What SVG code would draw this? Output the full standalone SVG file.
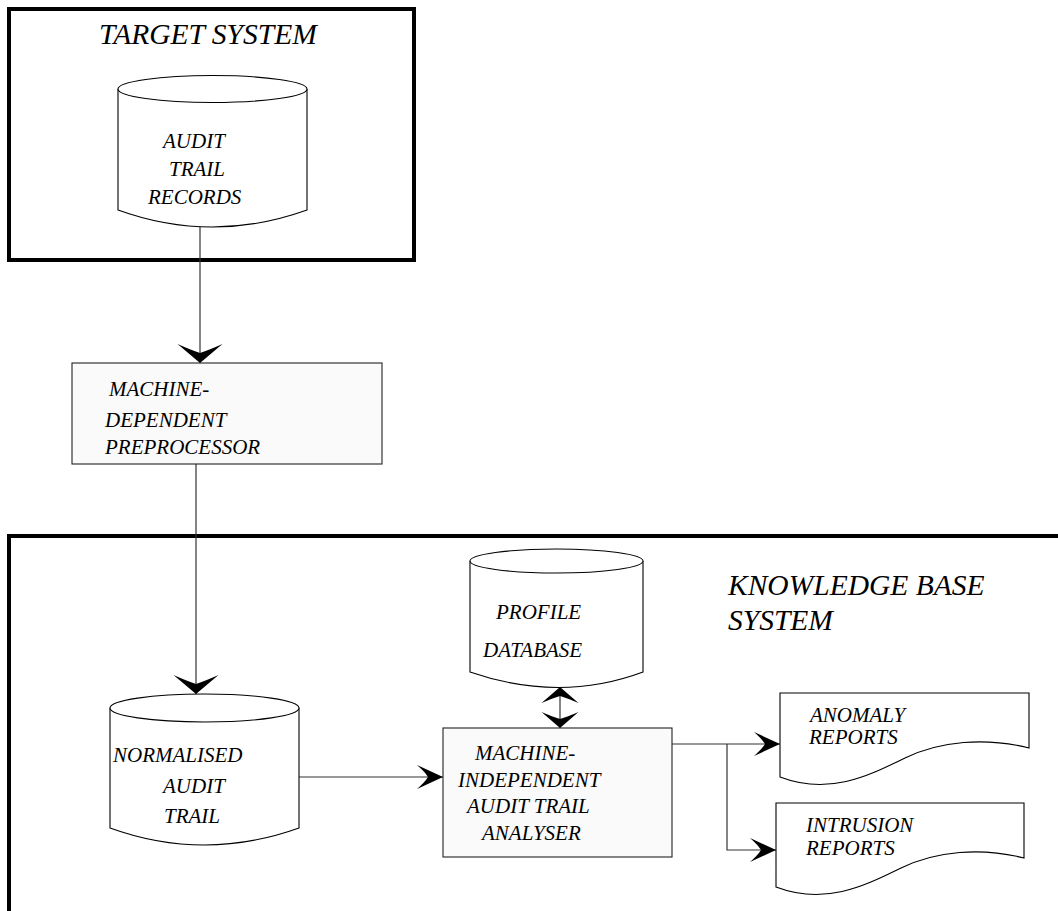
<svg xmlns="http://www.w3.org/2000/svg" width="1058" height="911" viewBox="0 0 1058 911">
<style>
.frame{fill:none;stroke:#000;stroke-width:4}
.shape{fill:#fff;stroke:#000;stroke-width:1.1}
.box{fill:#fafafa;stroke:#222;stroke-width:1.1}
.conn{fill:none;stroke:#333;stroke-width:1.2}
.t{font-family:"Liberation Serif","Times New Roman",serif;font-style:italic;font-size:21px;fill:#000}
.big{font-size:29.5px}
</style>
<defs>
<marker id="arrV" markerUnits="userSpaceOnUse" orient="auto" overflow="visible" markerWidth="1" markerHeight="1">
<path d="M0,0 L-19,-22.5 Q-13,-9 -10,0 Q-13,9 -19,22.5 Z" fill="#000"/>
</marker>
<marker id="arrH" markerUnits="userSpaceOnUse" orient="auto" overflow="visible" markerWidth="1" markerHeight="1">
<path d="M0,0 L-26,-12 Q-18,-5 -15,0 Q-18,5 -26,12 Z" fill="#000"/>
</marker>
<marker id="arrB" markerUnits="userSpaceOnUse" orient="auto-start-reverse" overflow="visible" markerWidth="1" markerHeight="1">
<path d="M0,0 L-16,-18.5 Q-11,-7 -9,0 Q-11,7 -16,18.5 Z" fill="#000"/>
</marker>
</defs>

<g id="target-system">
<rect class="frame" x="9" y="9" width="405" height="251"/>
<text class="t big" x="99" y="44">TARGET SYSTEM</text>
</g>

<g id="knowledge-base-system">
<rect class="frame" x="9" y="536" width="1100" height="420"/>
<text class="t big" x="728" y="595">KNOWLEDGE BASE</text>
<text class="t big" x="728" y="630">SYSTEM</text>
</g>

<g id="connectors">
<path class="conn" d="M200,227 V363" marker-end="url(#arrV)"/>
<path class="conn" d="M196,464 V694" marker-end="url(#arrV)"/>
<path class="conn" d="M299,777 H443" marker-end="url(#arrH)"/>
<path class="conn" d="M560,687 V728" marker-start="url(#arrB)" marker-end="url(#arrB)"/>
<path class="conn" d="M672,744 H780" marker-end="url(#arrH)"/>
<path class="conn" d="M727,744 V850 H776" marker-end="url(#arrH)"/>
</g>

<g id="audit-trail-records">
<path class="shape" d="M118,89 V210 Q212,244 307,210 V89"/>
<ellipse class="shape" cx="212.5" cy="89" rx="94.5" ry="13.5"/>
<text class="t" x="163" y="148">AUDIT</text>
<text class="t" x="169" y="176">TRAIL</text>
<text class="t" x="148" y="204">RECORDS</text>
</g>

<g id="preprocessor">
<rect class="box" x="72" y="363" width="310" height="101"/>
<text class="t" x="109" y="396">MACHINE-</text>
<text class="t" x="105" y="427">DEPENDENT</text>
<text class="t" x="105" y="454">PREPROCESSOR</text>
</g>

<g id="normalised-audit-trail">
<path class="shape" d="M110,708 V828 Q204,862 299,828 V708"/>
<ellipse class="shape" cx="204.5" cy="708" rx="94.5" ry="14"/>
<text class="t" x="113" y="762">NORMALISED</text>
<text class="t" x="163" y="793">AUDIT</text>
<text class="t" x="164" y="823">TRAIL</text>
</g>

<g id="profile-database">
<path class="shape" d="M470,561 V672 Q560,703 643,672 V561"/>
<ellipse class="shape" cx="556.5" cy="561" rx="86.5" ry="12"/>
<text class="t" x="496" y="619">PROFILE</text>
<text class="t" x="483" y="657">DATABASE</text>
</g>

<g id="analyser">
<rect class="box" x="443" y="728" width="229" height="129"/>
<text class="t" x="475" y="760">MACHINE-</text>
<text class="t" x="458" y="787">INDEPENDENT</text>
<text class="t" x="467" y="813">AUDIT TRAIL</text>
<text class="t" x="482" y="840">ANALYSER</text>
</g>

<g id="anomaly-reports">
<path class="shape" d="M780,693 H1029 V748 C985,737 940,741 905,758 C870,775 830,796 780,777 Z"/>
<text class="t" x="810" y="722">ANOMALY</text>
<text class="t" x="809" y="744">REPORTS</text>
</g>

<g id="intrusion-reports">
<path class="shape" d="M776,803 H1024 V858 C981,847 936,851 901,868 C866,885 826,906 776,887 Z"/>
<text class="t" x="806" y="832">INTRUSION</text>
<text class="t" x="806" y="855">REPORTS</text>
</g>
</svg>
